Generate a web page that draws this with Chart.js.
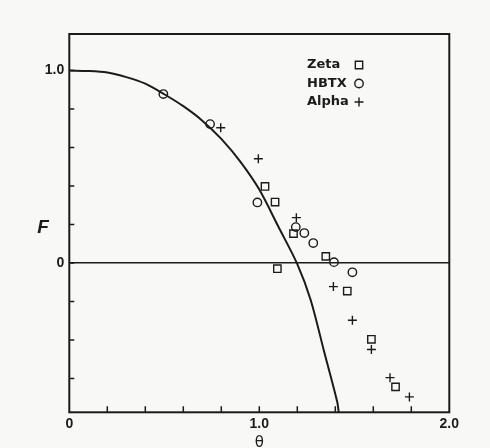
<!DOCTYPE html>
<html>
<head>
<meta charset="utf-8">
<script src="https://cdn.jsdelivr.net/npm/chart.js@4"></script>
<style>
  html, body { margin: 0; padding: 0; background: #f8f8f6; }
  #wrap { width: 490px; height: 448px; }
</style>
</head>
<body>
<div id="wrap"><canvas id="chart" width="490" height="448"></canvas></div>
<script>
// theory curve
const curveTheta = [0, 0.1, 0.2, 0.3, 0.4, 0.5, 0.6, 0.7, 0.8, 0.9, 1.0, 1.1, 1.2, 1.27, 1.34, 1.41, 1.418];
const curveF = [1.0, 0.998, 0.99, 0.966, 0.932, 0.877, 0.815, 0.74, 0.645, 0.527, 0.382, 0.19, -0.005, -0.19, -0.455, -0.72, -0.775];

// measured points
const zetaTheta = [1.03, 1.083, 1.18, 1.095, 1.35, 1.463, 1.59, 1.717];
const zetaF = [0.398, 0.317, 0.153, -0.029, 0.035, -0.145, -0.396, -0.643];

const hbtxTheta = [0.495, 0.741, 0.99, 1.192, 1.237, 1.284, 1.393, 1.49];
const hbtxF = [0.878, 0.722, 0.315, 0.187, 0.156, 0.104, 0.005, -0.048];

const alphaTheta = [0.797, 0.995, 1.195, 1.39, 1.49, 1.59, 1.688, 1.79];
const alphaF = [0.703, 0.542, 0.236, -0.122, -0.297, -0.449, -0.595, -0.695];

const xTickLabels = { 0: '0', 1: '1.0', 2: '2.0' };
const yTickLabels = { 0: '0', 1: '1.0' };

const ink = '#1b1b1b';

function pts(xs, ys) {
    return xs.map((x, i) => ({ x: x, y: ys[i] }));
}

function labelFor(map, v) {
    for (const k in map) {
        if (Math.abs(v - Number(k)) < 1e-6) return map[k];
    }
    return '';
}

function onStep(v) {
    const r = v / 0.2;
    return Math.abs(r - Math.round(r)) < 1e-6;
}

// frame, inward tick marks, axis titles and legend
const framePlugin = {
    id: 'frame',
    afterDraw(chart) {
        const ctx = chart.ctx;
        const a = chart.chartArea;
        const xs = chart.scales.x, ys = chart.scales.y;
        ctx.save();
        ctx.strokeStyle = ink;
        ctx.lineWidth = 2;
        ctx.strokeRect(a.left, a.top, a.right - a.left, a.bottom - a.top);

        ctx.lineWidth = 1.5;
        ctx.beginPath();
        xs.ticks.forEach(t => {
            if (!onStep(t.value) || t.value <= xs.min || t.value >= xs.max) return;
            const px = xs.getPixelForValue(t.value);
            ctx.moveTo(px, a.bottom);
            ctx.lineTo(px, a.bottom - 6);
        });
        ys.ticks.forEach(t => {
            if (!onStep(t.value) || t.value <= ys.min || t.value >= ys.max) return;
            const py = ys.getPixelForValue(t.value);
            ctx.moveTo(a.left, py);
            ctx.lineTo(a.left + 5, py);
        });
        ctx.stroke();

        // axis titles
        ctx.fillStyle = ink;
        ctx.font = 'italic bold 19px "Liberation Sans"';
        ctx.textAlign = 'center';
        ctx.textBaseline = 'middle';
        ctx.fillText('F', 43, 228);
        ctx.font = '15px "DejaVu Sans"';
        ctx.textBaseline = 'alphabetic';
        ctx.fillText('θ', xs.getPixelForValue(1.0), 447);

        // legend
        const entries = [
            { text: 'Zeta', style: 'rect', radius: 5.2, y: 65 },
            { text: 'HBTX', style: 'circle', radius: 4.2, y: 83.5 },
            { text: 'Alpha', style: 'cross', radius: 4.5, y: 102 }
        ];
        ctx.font = 'bold 13px "DejaVu Sans"';
        ctx.textAlign = 'left';
        ctx.textBaseline = 'middle';
        entries.forEach(e => {
            ctx.fillStyle = ink;
            ctx.fillText(e.text, 307, e.y);
            ctx.lineWidth = 1.4;
            ctx.strokeStyle = ink;
            ctx.fillStyle = 'rgba(0,0,0,0)';
            Chart.helpers.drawPoint(ctx, { pointStyle: e.style, radius: e.radius, rotation: 0, borderWidth: 1.4 }, 359, e.y);
        });
        ctx.restore();
    }
};

const ctx = document.getElementById('chart').getContext('2d');
new Chart(ctx, {
    type: 'scatter',
    data: {
        datasets: [
            {
                label: 'theory',
                data: pts(curveTheta, curveF),
                showLine: true,
                tension: 0.3,
                borderColor: ink,
                borderWidth: 2,
                pointRadius: 0,
                fill: false
            },
            {
                label: 'Zeta',
                data: pts(zetaTheta, zetaF),
                pointStyle: 'rect',
                pointRadius: 5.2,
                borderColor: ink,
                backgroundColor: 'rgba(0,0,0,0)',
                borderWidth: 1.4
            },
            {
                label: 'HBTX',
                data: pts(hbtxTheta, hbtxF),
                pointStyle: 'circle',
                pointRadius: 4.2,
                borderColor: ink,
                backgroundColor: 'rgba(0,0,0,0)',
                borderWidth: 1.4
            },
            {
                label: 'Alpha',
                data: pts(alphaTheta, alphaF),
                pointStyle: 'cross',
                pointRadius: 4.5,
                borderColor: ink,
                backgroundColor: 'rgba(0,0,0,0)',
                borderWidth: 1.4
            }
        ]
    },
    options: {
        responsive: false,
        animation: false,
        layout: { padding: { top: 34, right: 40.7, left: 0, bottom: 0 } },
        plugins: {
            legend: { display: false },
            tooltip: { enabled: false }
        },
        scales: {
            x: {
                type: 'linear',
                min: 0,
                max: 2.0,
                afterFit: s => { s.height = 448 - 412.3; },
                border: { display: false },
                grid: { display: true, drawOnChartArea: false, drawTicks: false },
                ticks: {
                    stepSize: 0.2,
                    autoSkip: false,
                    maxRotation: 0,
                    padding: 3,
                    color: ink,
                    font: { family: 'Liberation Sans', size: 14, weight: 'bold' },
                    callback: v => labelFor(xTickLabels, v)
                }
            },
            y: {
                type: 'linear',
                min: -0.775,
                max: 1.19,
                afterFit: s => { s.width = 69.3; },
                border: { display: false },
                grid: {
                    drawTicks: false,
                    lineWidth: 1.5,
                    color: c => (c.tick && Math.abs(c.tick.value) < 1e-9) ? ink : 'rgba(0,0,0,0)'
                },
                ticks: {
                    stepSize: 0.2,
                    autoSkip: false,
                    padding: 5,
                    color: ink,
                    font: { family: 'Liberation Sans', size: 14, weight: 'bold' },
                    callback: v => labelFor(yTickLabels, v)
                }
            }
        }
    },
    plugins: [framePlugin]
});
</script>
</body>
</html>
